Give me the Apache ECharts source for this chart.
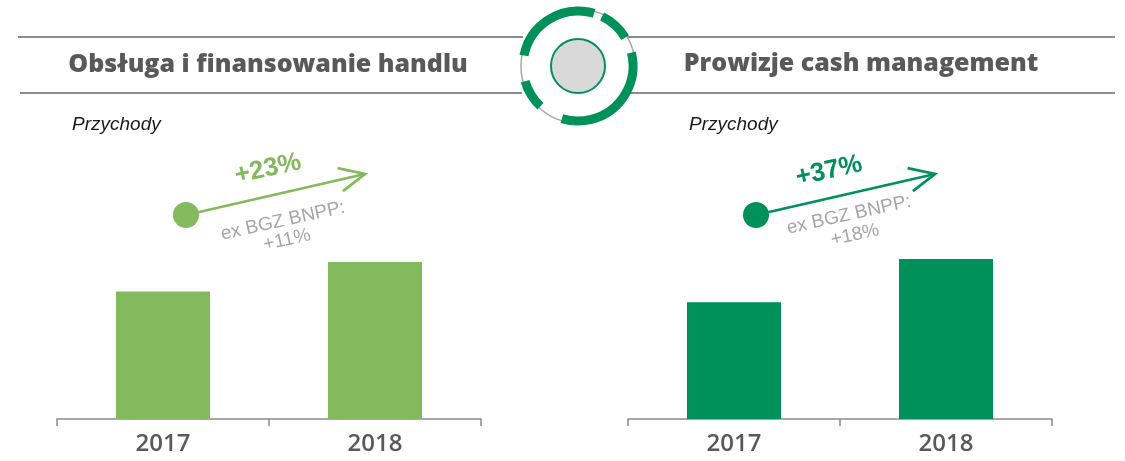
<!DOCTYPE html>
<html>
<head>
<meta charset="utf-8">
<script src="https://cdn.jsdelivr.net/npm/echarts@6/dist/echarts.min.js"></script>
<style>
  html, body { margin: 0; padding: 0; background: #ffffff; }
  #chart { width: 1125px; height: 461px; }
</style>
</head>
<body>
<div id="chart"></div>
<script>
// Revenue index (2017 = 100)
const years = ['2017', '2018'];
const tradeFinance = [100, 123];     // Obsługa i finansowanie handlu
const cashManagement = [100, 137];   // Prowizje cash management
const exBgzGrowth = [11, 18];        // growth excluding BGZ BNPP, %

const titles = ['Obsługa i finansowanie handlu', 'Prowizje cash management'];
const subtitle = 'Przychody';
const exLabel = 'ex BGZ BNPP:';

const LIGHT = '#84ba5e';
const DARK = '#00915a';
const GREY_TEXT = '#595959';
const RULE = '#8c8c8c';

function growth(v) {
  return Math.round((v[1] / v[0] - 1) * 100);
}

const deg = Math.PI / 180;
const arrowRot = 12.5 * deg;

// Header ornament: ring with green arc segments and a grey centre disc
const cx = 578, cy = 66;
function arc(a0, a1) {
  return {
    type: 'arc',
    shape: { cx: cx, cy: cy, r: 55, startAngle: a0 * deg, endAngle: a1 * deg, clockwise: true },
    style: { stroke: DARK, lineWidth: 9, fill: null },
    z: 12
  };
}

// Growth arrow with dot, headline percentage and footnote
function growthArrow(x0, y0, x1, y1, color, pct, exPct, pctPos, exPos, exPctPos) {
  const ang = Math.atan2(y1 - y0, x1 - x0);
  const len = 28, spread = 25 * deg;
  const h1 = [x1 - len * Math.cos(ang - spread), y1 - len * Math.sin(ang - spread)];
  const h2 = [x1 - len * Math.cos(ang + spread), y1 - len * Math.sin(ang + spread)];
  return [
    { type: 'line', shape: { x1: x0, y1: y0, x2: x1, y2: y1 }, style: { stroke: color, lineWidth: 2.8 }, z: 10 },
    { type: 'polyline', shape: { points: [h1, [x1, y1], h2] }, style: { stroke: color, lineWidth: 2.8, fill: null }, z: 10 },
    { type: 'circle', shape: { cx: x0, cy: y0, r: 13 }, style: { fill: color }, z: 11 },
    { type: 'text', x: pctPos[0], y: pctPos[1], rotation: arrowRot,
      style: { text: '+' + pct + '%', x: 0, y: 0, align: 'center', verticalAlign: 'middle',
               fill: color, font: 'bold 26px "Liberation Sans", Arial, sans-serif' }, z: 10 },
    { type: 'text', x: exPos[0], y: exPos[1], rotation: arrowRot,
      style: { text: exLabel, x: 0, y: 0, align: 'center', verticalAlign: 'middle',
               fill: '#a6a6a6', font: '19px "Liberation Sans", Arial, sans-serif' }, z: 10 },
    { type: 'text', x: exPctPos[0], y: exPctPos[1], rotation: arrowRot,
      style: { text: '+' + exPct + '%', x: 0, y: 0, align: 'center', verticalAlign: 'middle',
               fill: '#a6a6a6', font: '19px "Liberation Sans", Arial, sans-serif' }, z: 10 }
  ];
}

const chart = echarts.init(document.getElementById('chart'), null, { renderer: 'canvas' });

const axisCommon = {
  type: 'category',
  data: years,
  boundaryGap: true,
  axisLine: { show: true, lineStyle: { color: RULE, width: 1.5 } },
  axisTick: { show: true, length: 7, lineStyle: { color: RULE, width: 1.5 } },
  axisLabel: { color: GREY_TEXT, fontSize: 24, fontWeight: 600, fontFamily: '"Open Sans", sans-serif', margin: 13 }
};
const yCommon = {
  type: 'value', min: 0, show: false,
  splitLine: { show: false }, axisLine: { show: false }, axisTick: { show: false }, axisLabel: { show: false }
};

const option = {
  backgroundColor: '#ffffff',
  animation: false,
  grid: [
    { left: 57, width: 424, top: 100, bottom: 42 },
    { left: 628, width: 424, top: 100, bottom: 42 }
  ],
  xAxis: [
    Object.assign({ gridIndex: 0 }, axisCommon),
    Object.assign({ gridIndex: 1 }, axisCommon)
  ],
  yAxis: [
    Object.assign({ gridIndex: 0, max: 250 }, yCommon),
    Object.assign({ gridIndex: 1, max: 273 }, yCommon)
  ],
  series: [
    { type: 'bar', xAxisIndex: 0, yAxisIndex: 0, data: tradeFinance, barWidth: 94,
      itemStyle: { color: LIGHT } },
    { type: 'bar', xAxisIndex: 1, yAxisIndex: 1, data: cashManagement, barWidth: 94,
      itemStyle: { color: DARK } }
  ],
  graphic: [
    // header rules
    { type: 'line', shape: { x1: 18, y1: 37, x2: 523, y2: 37 }, style: { stroke: RULE, lineWidth: 2 }, z: 5 },
    { type: 'line', shape: { x1: 627, y1: 37, x2: 1115, y2: 37 }, style: { stroke: RULE, lineWidth: 2 }, z: 5 },
    { type: 'line', shape: { x1: 20, y1: 93, x2: 522, y2: 93 }, style: { stroke: RULE, lineWidth: 2 }, z: 5 },
    { type: 'line', shape: { x1: 630, y1: 93, x2: 1115, y2: 93 }, style: { stroke: RULE, lineWidth: 2 }, z: 5 },
    // ornament
    { type: 'circle', shape: { cx: cx, cy: cy, r: 57 }, style: { fill: '#ffffff', stroke: '#a6a6a6', lineWidth: 1.5 }, z: 11 },
    arc(-169, -73),
    arc(-64, -31),
    arc(-14, 107),
    arc(133, 164),
    { type: 'circle', shape: { cx: cx, cy: cy, r: 27 }, style: { fill: '#d9d9d9', stroke: DARK, lineWidth: 2 }, z: 12 },
    // section titles
    { type: 'text', x: 268, y: 65,
      style: { text: titles[0], align: 'center', verticalAlign: 'middle', fill: GREY_TEXT,
               font: '800 25px "Open Sans", sans-serif' }, z: 10 },
    { type: 'text', x: 861, y: 64,
      style: { text: titles[1], align: 'center', verticalAlign: 'middle', fill: GREY_TEXT,
               font: '800 25px "Open Sans", sans-serif' }, z: 10 },
    { type: 'text', x: 72, y: 125,
      style: { text: subtitle, align: 'left', verticalAlign: 'middle', fill: '#1a1a1a',
               font: 'italic 19px "Liberation Sans", Arial, sans-serif' }, z: 10 },
    { type: 'text', x: 689, y: 125,
      style: { text: subtitle, align: 'left', verticalAlign: 'middle', fill: '#1a1a1a',
               font: 'italic 19px "Liberation Sans", Arial, sans-serif' }, z: 10 }
  ]
    .concat(growthArrow(186, 215, 365, 174, LIGHT, growth(tradeFinance), exBgzGrowth[0],
                        [268, 169], [283, 221], [287, 240]))
    .concat(growthArrow(756, 215, 935, 174, DARK, growth(cashManagement), exBgzGrowth[1],
                        [829, 171], [849, 215], [855, 235]))
};

chart.setOption(option);
</script>
</body>
</html>
